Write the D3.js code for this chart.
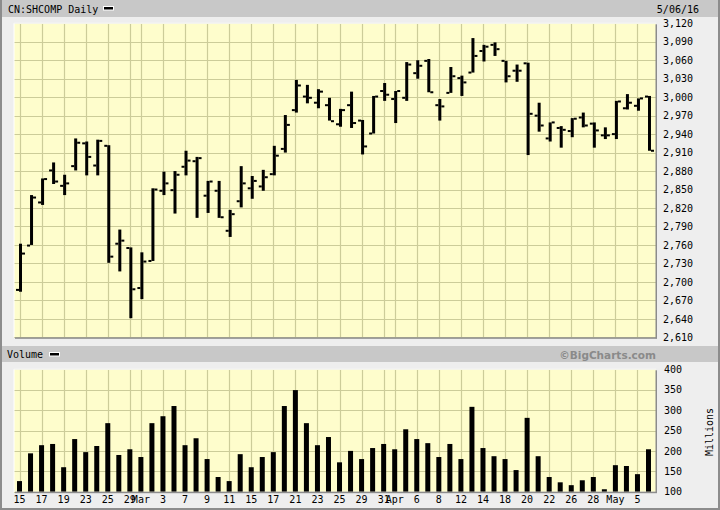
<!DOCTYPE html>
<html><head><meta charset="utf-8">
<script src="https://cdn.jsdelivr.net/npm/d3@7"></script>
<style>
html,body{margin:0;padding:0;background:#eeeeee;}
svg{display:block;}
text{font-family:"DejaVu Sans Mono",monospace;font-size:10px;fill:#000;}
</style></head>
<body>
<svg id="c" width="720" height="510"></svg>
<script>
// ---- data (Shanghai Composite daily, Feb 15 – May 6, 2016) ----
const dates = ["2/15","2/16","2/17","2/18","2/19","2/22","2/23","2/24","2/25","2/26","2/29",
  "3/1","3/2","3/3","3/4","3/7","3/8","3/9","3/10","3/11","3/14","3/15","3/16","3/17","3/18",
  "3/21","3/22","3/23","3/24","3/25","3/28","3/29","3/30","3/31","4/1","4/5","4/6","4/7","4/8",
  "4/11","4/12","4/13","4/14","4/15","4/18","4/19","4/20","4/21","4/22","4/25","4/26","4/27",
  "4/28","4/29","5/3","5/4","5/5","5/6"];
const opens  = [2687,2759,2829,2881,2856,2888,2925,2889,2921,2762,2755,2690,2734,2848,2849,2887,2896,2840,2848,2783,
  2831,2852,2855,2875,2916,2979,3001,2991,2987,2956,2987,2962,2941,3010,2997,2999,3039,3059,2987,
  3007,3031,3040,3075,3085,3059,3043,3055,2970,2933,2950,2945,2967,2957,2938,2940,2982,2986,3001];
const highs  = [2762,2841,2868,2894,2874,2933,2928,2931,2922,2785,2756,2748,2852,2879,2880,2913,2903,2864,2864,2817,
  2888,2872,2882,2921,2971,3028,3020,3013,2999,2981,3009,2963,3002,3023,3010,3057,3060,3062,2997,
  3049,3035,3096,3085,3089,3059,3053,3056,2991,2959,2953,2966,2975,2959,2951,2994,3005,2998,3002];
const lows   = [2684,2760,2825,2859,2841,2881,2873,2873,2731,2717,2641,2672,2734,2841,2811,2873,2804,2812,2804,2773,
  2821,2835,2848,2873,2910,2975,2990,2982,2962,2952,2950,2907,2941,2994,2958,2994,3030,3008,2962,
  3007,3002,3040,3058,3067,3024,3025,2906,2944,2928,2918,2935,2951,2918,2932,2932,2980,2978,2913];
const closes = [2746,2837,2867,2863,2860,2926,2903,2929,2741,2767,2688,2733,2850,2860,2874,2897,2901,2863,2805,2810,
  2860,2864,2870,2905,2955,3019,2999,3009,2961,2979,2958,2920,3001,3004,3010,3053,3051,3008,2985,
  3034,3024,3067,3082,3078,3034,3043,2973,2954,2959,2947,2965,2954,2946,2938,2993,2991,2998,2913];
const volumes = [126,194,214,217,160,229,197,212,268,190,204,185,268,285,310,214,231,180,136,126,
  192,160,185,197,310,349,268,214,234,172,200,180,207,217,204,253,229,219,185,217,180,308,207,187,
  180,153,281,187,136,123,116,128,136,106,165,163,143,204];
const tickIdx  = [0,2,4,6,8,10,11,13,15,17,19,21,23,25,27,29,31,33,34,36,38,40,42,44,46,48,50,52,54,56];
const tickText = ["15","17","19","23","25","29","Mar","3","7","9","11","15","17","21","23","25","29","31","Apr",
  "6","8","12","14","18","20","22","26","28","May","5"];
const priceTicks = d3.range(2610, 3121, 30);
const volTicks = [100,150,200,250,300,350,400];
const title = "CN:SHCOMP Daily", dateLabel = "5/06/16";

// ---- layout ----
const svg = d3.select("#c");
const L = 14, R = 656;
const pTop = 23.3, pBot = 337.3, vTop = 369.3, vBot = 491.7;
const x = d3.scaleLinear().domain([0, dates.length - 1]).range([20.5, 649.5]);
const yP = d3.scaleLinear().domain([2610, 3120]).range([pBot, pTop]);
const yV = d3.scaleLinear().domain([100, 400]).range([vBot, vTop]);
const gridC = "#cccc99", bg = "#fefdcc";

// frame
svg.append("rect").attr("x",0).attr("y",0).attr("width",720).attr("height",510).attr("fill","#eeeeee");
svg.append("rect").attr("x",0).attr("y",0).attr("width",720).attr("height",17).attr("fill","#c8c8c8");
svg.append("rect").attr("x",0).attr("y",346).attr("width",720).attr("height",16).attr("fill","#c8c8c8");
svg.append("rect").attr("x",0).attr("y",0).attr("width",2).attr("height",510).attr("fill","#8c8c8c");
svg.append("rect").attr("x",0).attr("y",508).attr("width",720).attr("height",2).attr("fill","#8c8c8c");
svg.append("rect").attr("x",718).attr("y",0).attr("width",2).attr("height",510).attr("fill","#8c8c8c");

// headers
svg.append("text").attr("x",8).attr("y",12.5).text(title);
svg.append("rect").attr("x",103.5).attr("y",6.5).attr("width",10).attr("height",3.5).attr("fill","#000").attr("stroke","#fff").attr("stroke-width",1);
svg.append("text").attr("x",699).attr("y",12.5).attr("text-anchor","end").text(dateLabel);
svg.append("text").attr("x",7).attr("y",358).text("Volume");
svg.append("rect").attr("x",49.5).attr("y",352.5).attr("width",10).attr("height",3.5).attr("fill","#000").attr("stroke","#fff").attr("stroke-width",1);
svg.append("text").attr("x",656).attr("y",358.5).attr("text-anchor","end")
  .style("font-family","'DejaVu Sans',sans-serif").style("font-weight","bold").style("font-size","10.5px").style("fill","#8a8a8a")
  .text("\u00A9BigCharts.com");

function panel(top, bot, hTicks, yS) {
  const g = svg.append("g");
  g.append("rect").attr("x",L).attr("y",top).attr("width",R-L).attr("height",bot-top).attr("fill",bg);
  g.selectAll(".hg").data(hTicks).join("line")
    .attr("x1",L).attr("x2",R).attr("y1",d=>Math.round(yS(d))+0.5).attr("y2",d=>Math.round(yS(d))+0.5)
    .attr("stroke",gridC).attr("stroke-width",1.2);
  g.selectAll(".vg").data(tickIdx).join("line")
    .attr("x1",d=>Math.round(x(d))-0.5).attr("x2",d=>Math.round(x(d))-0.5).attr("y1",top).attr("y2",bot)
    .attr("stroke",gridC).attr("stroke-width",1.2);
  g.append("line").attr("x1",L).attr("x2",R).attr("y1",top).attr("y2",top).attr("stroke","#ffffff").attr("stroke-width",1);
  g.append("line").attr("x1",L).attr("x2",L).attr("y1",top).attr("y2",bot).attr("stroke","#ffffff").attr("stroke-width",1);
  return g;
}
const gp = panel(pTop, pBot, priceTicks, yP);
const gv = panel(vTop, vBot, volTicks, yV);

// OHLC bars
const idx = d3.range(dates.length);
const ob = gp.append("g");
ob.selectAll(".b").data(idx).join("rect")
  .attr("x",i=>x(i)-1.5).attr("width",3)
  .attr("y",i=>yP(highs[i])).attr("height",i=>Math.max(2,yP(lows[i])-yP(highs[i]))).attr("fill","#000");
ob.selectAll(".o").data(idx).join("rect")
  .attr("x",i=>x(i)-4.5).attr("width",3)
  .attr("y",i=>yP(opens[i])-1).attr("height",2).attr("fill","#000");
ob.selectAll(".c").data(idx).join("rect")
  .attr("x",i=>x(i)+1.5).attr("width",3)
  .attr("y",i=>yP(closes[i])-1).attr("height",2).attr("fill","#000");

// volume bars
gv.append("g").selectAll("rect").data(idx).join("rect")
  .attr("x",i=>x(i)-3.5).attr("width",5)
  .attr("y",i=>yV(volumes[i])).attr("height",i=>vBot-yV(volumes[i])).attr("fill","#000");

// shadows
[[pTop,pBot],[vTop,vBot]].forEach(([t,b])=>{
  svg.append("rect").attr("x",L+1).attr("y",b).attr("width",R-L).attr("height",1.5).attr("fill","#8c8c8c");
  svg.append("rect").attr("x",R-0.5).attr("y",t+1).attr("width",1.5).attr("height",b-t).attr("fill","#8c8c8c");
});

// axes
const ayP = svg.append("g").attr("transform",`translate(${R},0)`)
  .call(d3.axisRight(yP).tickValues(priceTicks).tickFormat(d3.format(",")).tickSize(0).tickPadding(7));
const ayV = svg.append("g").attr("transform",`translate(${R},0)`)
  .call(d3.axisRight(yV).tickValues(volTicks).tickFormat(d3.format("d")).tickSize(0).tickPadding(8));
const ax = svg.append("g").attr("transform",`translate(0,${vBot})`)
  .call(d3.axisBottom(x).tickValues(tickIdx).tickFormat((d,k)=>tickText[k]).tickSize(0).tickPadding(4));
[ayP,ayV,ax].forEach(a=>{
  a.select(".domain").remove();
  a.selectAll("text").style("font-family","'DejaVu Sans Mono',monospace").style("font-size","10px").attr("fill","#000");
});
ax.selectAll(".tick").attr("transform",d=>`translate(${x(d)-1},0)`);
svg.append("text").attr("transform","translate(713,432) rotate(-90)").attr("text-anchor","middle").text("Millions");
</script>
</body></html>
